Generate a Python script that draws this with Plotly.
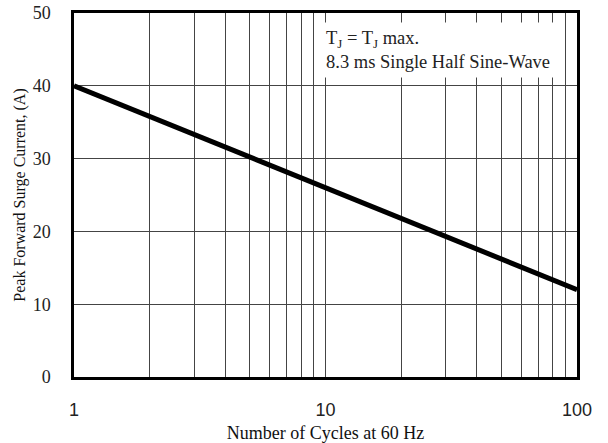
import plotly.graph_objects as go

cycles = [1, 2, 5, 10, 20, 50, 100]
current = [40, 35.8, 30.3, 26, 21.8, 16.3, 12]
x_ticks = [1, 10, 100]
y_ticks = [0, 10, 20, 30, 40, 50]

SERIF = "Liberation Serif, Times New Roman, serif"
SANS = "Liberation Sans, Arial, sans-serif"

fig = go.Figure()
fig.add_trace(go.Scatter(x=cycles, y=current, mode="lines",
                         line=dict(color="black", width=5), showlegend=False))

fig.update_layout(
    width=608, height=443,
    margin=dict(l=74, r=31, t=13, b=66),
    paper_bgcolor="white", plot_bgcolor="white",
    font=dict(family=SERIF, color="#111"),
    xaxis=dict(type="log", range=[0, 2], tickvals=x_ticks, ticktext=[str(v) for v in x_ticks],
               tickfont=dict(family=SANS, size=18, color="#222"),
               showgrid=True, gridcolor="#444", gridwidth=1,
               minor=dict(showgrid=True, gridcolor="#444", gridwidth=1, dtick="D1"),
               showline=True, linecolor="black", linewidth=2.5, mirror=True,
               ticks="", ticklabelstandoff=15, automargin=False,
               title=dict(text="Number of Cycles at 60 Hz", font=dict(family=SERIF, size=18), standoff=10),
               zeroline=False),
    yaxis=dict(range=[0, 50], tickvals=y_ticks,
               tickfont=dict(family=SERIF, size=18, color="#222"),
               showgrid=True, gridcolor="#444", gridwidth=1,
               showline=True, linecolor="black", linewidth=2.5, mirror=True,
               ticks="", ticklabelstandoff=17, automargin=False,
               title=dict(text="Peak Forward Surge Current, (A)", font=dict(family=SERIF, size=16), standoff=4),
               zeroline=False),
)

fig.add_annotation(
    xref="paper", yref="paper", x=0.489, y=0.975, xanchor="left", yanchor="top",
    text="T<sub>J</sub> = T<sub>J</sub> max.<br>8.3 ms Single Half Sine-Wave",
    showarrow=False, align="left", bgcolor="white", borderpad=5,
    font=dict(family=SERIF, size=18.5, color="#222"),
)

fig.write_html("out.html", config={"displayModeBar": False},
               post_script="document.body.style.margin='0';")
